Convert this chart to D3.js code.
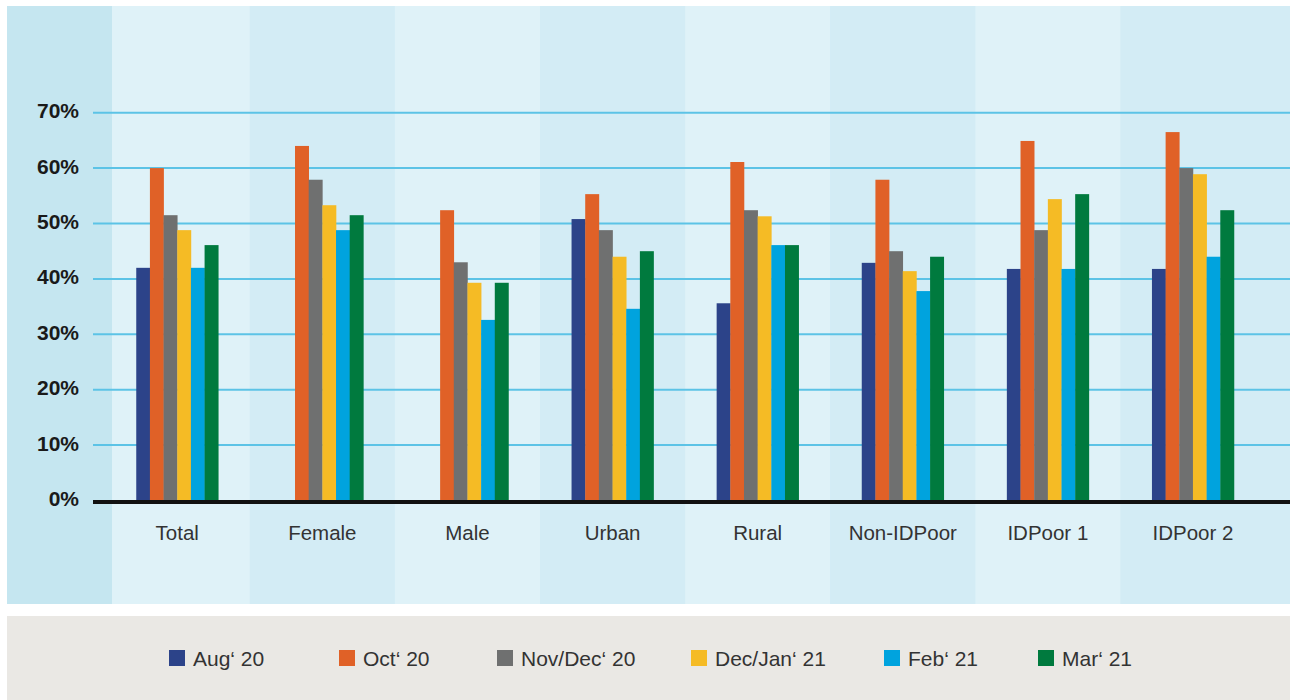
<!DOCTYPE html>
<html>
<head>
<meta charset="utf-8">
<script src="https://cdn.jsdelivr.net/npm/d3@7"></script>
<style>
  html, body { margin: 0; padding: 0; background: #ffffff; }
  svg { display: block; }
</style>
</head>
<body>
<svg id="chart" width="1292" height="700"></svg>
<script>
// ---- data ----
const categories = ["Total", "Female", "Male", "Urban", "Rural", "Non-IDPoor", "IDPoor 1", "IDPoor 2"];
const seriesNames = ["Aug\u2018 20", "Oct\u2018 20", "Nov/Dec\u2018 20", "Dec/Jan\u2018 21", "Feb\u2018 21", "Mar\u2018 21"];
const aug20    = [42, null, null, 50.8, 35.6, 42.9, 41.8, 41.8];
const oct20    = [60, 64, 52.4, 55.3, 61.1, 57.9, 64.9, 66.5];
const novDec20 = [51.5, 57.9, 43.0, 48.8, 52.4, 45.0, 48.8, 60.0];
const decJan21 = [48.8, 53.3, 39.3, 44.0, 51.3, 41.4, 54.4, 58.9];
const feb21    = [42, 48.8, 32.6, 34.6, 46.1, 37.8, 41.8, 44.0];
const mar21    = [46.1, 51.5, 39.3, 45.0, 46.1, 44.0, 55.3, 52.4];
const yTicks   = [0, 10, 20, 30, 40, 50, 60, 70];
const colors   = ["#2c4389", "#e06127", "#6f7070", "#f5bb25", "#00a3de", "#007a3e"];

const seriesValues = [aug20, oct20, novDec20, decJan21, feb21, mar21];

// ---- layout ----
const svg = d3.select("#chart");
const plotLeft = 7, plotTop = 6, plotRight = 1290, plotBottom = 604;
const axisBandRight = 112;
const gridLeft = 93;

const x = d3.scaleBand().domain(categories).range([104.7, 1265.5]).paddingInner(0).paddingOuter(0);
const groupW = 82;
const xInner = d3.scaleBand().domain(seriesNames).range([0, groupW]).padding(0);
const y = d3.scaleLinear().domain([0, 70]).range([500.5, 112.7]);

// chart background
svg.append("rect").attr("x", plotLeft).attr("y", plotTop)
  .attr("width", plotRight - plotLeft).attr("height", plotBottom - plotTop)
  .attr("fill", "#c5e6f0");

// category bands
svg.append("g").selectAll("rect").data(categories).join("rect")
  .attr("x", d => Math.max(x(d), axisBandRight))
  .attr("y", plotTop)
  .attr("width", (d, i) => i === categories.length - 1 ? plotRight - x(d)
        : x(d) + x.bandwidth() + 0.5 - Math.max(x(d), axisBandRight))
  .attr("height", plotBottom - plotTop)
  .attr("fill", (d, i) => i % 2 === 0 ? "#dff2f8" : "#d3ecf5");

// gridlines
svg.append("g").selectAll("line").data(yTicks.filter(t => t > 0)).join("line")
  .attr("x1", gridLeft).attr("x2", plotRight)
  .attr("y1", d => y(d)).attr("y2", d => y(d))
  .attr("stroke", "#5cc3e6").attr("stroke-width", 2);

// y tick labels
svg.append("g").selectAll("text").data(yTicks).join("text")
  .attr("x", 79).attr("y", d => y(d) + 5.5)
  .attr("text-anchor", "end")
  .attr("font-family", "Liberation Sans, Arial, sans-serif")
  .attr("font-weight", "bold")
  .attr("font-size", 21)
  .attr("fill", "#1a1a1a")
  .text(d => d + "%");

// bars
const groups = svg.append("g").selectAll("g").data(categories).join("g")
  .attr("transform", d => `translate(${x(d) + x.bandwidth() / 2 - groupW / 2},0)`);

groups.selectAll("rect")
  .data((c, ci) => seriesNames.map((s, si) => ({ s, si, v: seriesValues[si][ci] })).filter(d => d.v != null))
  .join("rect")
  .attr("x", d => xInner(d.s))
  .attr("width", xInner.bandwidth() + 0.3)
  .attr("y", d => y(d.v))
  .attr("height", d => y(0) - y(d.v))
  .attr("fill", d => colors[d.si]);

// zero axis line
svg.append("line")
  .attr("x1", gridLeft).attr("x2", plotRight)
  .attr("y1", y(0) + 1.5).attr("y2", y(0) + 1.5)
  .attr("stroke", "#111111").attr("stroke-width", 4);

// category labels
svg.append("g").selectAll("text").data(categories).join("text")
  .attr("x", d => x(d) + x.bandwidth() / 2)
  .attr("y", 540)
  .attr("text-anchor", "middle")
  .attr("font-family", "Liberation Sans, Arial, sans-serif")
  .attr("font-size", 20.5)
  .attr("fill", "#333333")
  .text(d => d);

// legend
svg.append("rect").attr("x", plotLeft).attr("y", 616)
  .attr("width", plotRight - plotLeft).attr("height", 84)
  .attr("fill", "#eae8e4");

const legendX = [169, 339, 497, 691, 884, 1038];
const leg = svg.append("g").selectAll("g").data(seriesNames).join("g")
  .attr("transform", (d, i) => `translate(${legendX[i]},650)`);
leg.append("rect").attr("width", 16).attr("height", 16).attr("fill", (d, i) => colors[i]);
leg.append("text").attr("x", 24).attr("y", 16)
  .attr("font-family", "Liberation Sans, Arial, sans-serif")
  .attr("font-size", 21)
  .attr("fill", "#333333")
  .text(d => d);
</script>
</body>
</html>
